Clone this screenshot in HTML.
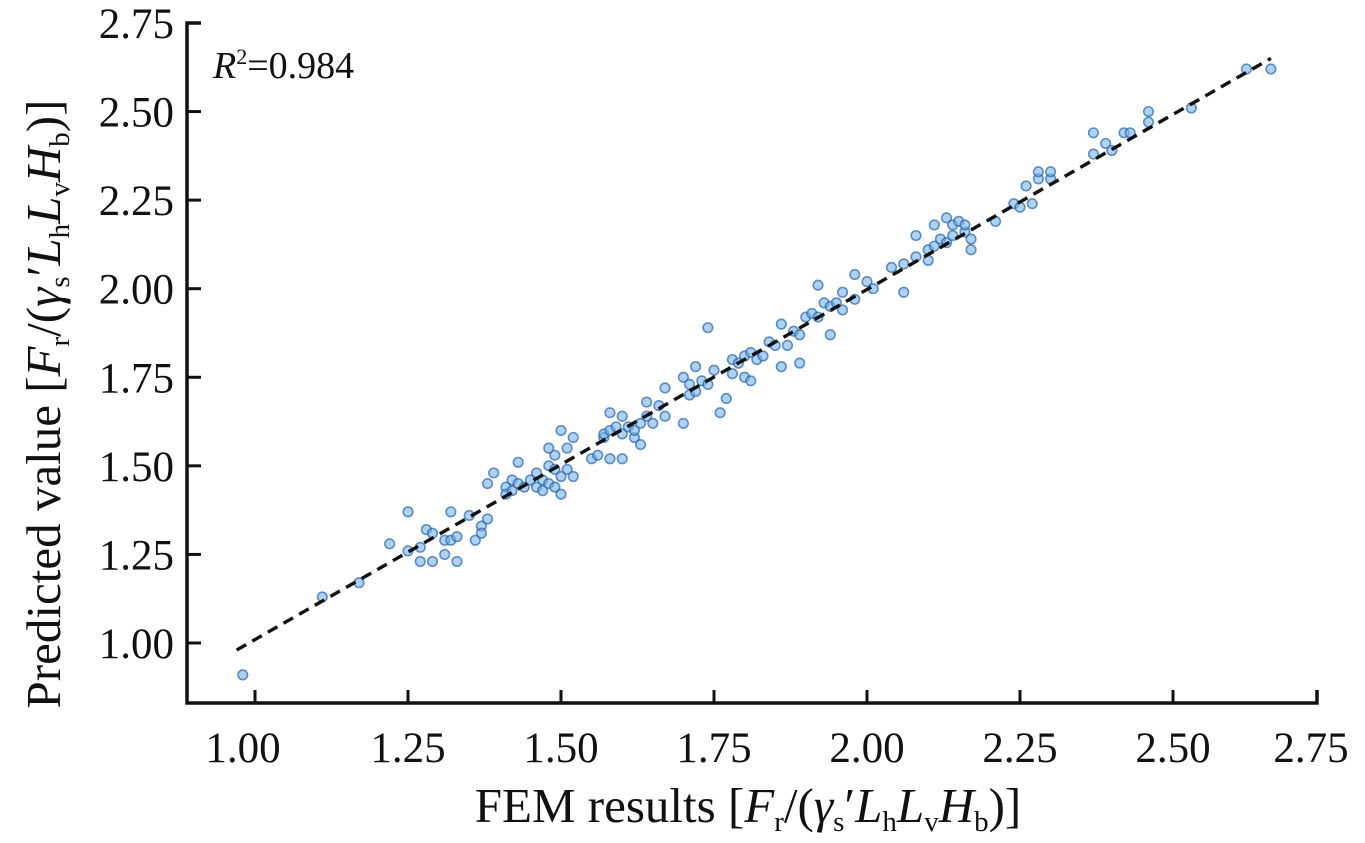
<!DOCTYPE html>
<html><head><meta charset="utf-8"><style>
html,body{margin:0;padding:0;background:#fff;}
svg{display:block;font-family:"Liberation Serif",serif;}
</style></head><body>
<svg id="chart" width="1365" height="843" viewBox="0 0 1365 843" xmlns="http://www.w3.org/2000/svg">
<g id="marks"></g>
<g id="fit"></g>
<g id="axes"></g>
<text x="213" y="78" font-size="38" fill="#111"><tspan font-style="italic">R</tspan><tspan font-size="22" dy="-14">2</tspan><tspan dy="14">=0.984</tspan></text>
<text x="748" y="822" font-size="49" text-anchor="middle" fill="#111">FEM results [<tspan font-style="italic">F</tspan><tspan font-size="29" dy="9">r</tspan><tspan dy="-9">/(</tspan><tspan font-style="italic">γ</tspan><tspan font-size="29" dy="9">s</tspan><tspan dy="-9">′</tspan><tspan font-style="italic">L</tspan><tspan font-size="29" dy="9">h</tspan><tspan font-style="italic" dy="-9">L</tspan><tspan font-size="29" dy="9">v</tspan><tspan font-style="italic" dy="-9">H</tspan><tspan font-size="29" dy="9">b</tspan><tspan dy="-9">)]</tspan></text>
<text transform="translate(60,404) rotate(-90)" font-size="49" text-anchor="middle" fill="#111">Predicted value [<tspan font-style="italic">F</tspan><tspan font-size="29" dy="9">r</tspan><tspan dy="-9">/(</tspan><tspan font-style="italic">γ</tspan><tspan font-size="29" dy="9">s</tspan><tspan dy="-9">′</tspan><tspan font-style="italic">L</tspan><tspan font-size="29" dy="9">h</tspan><tspan font-style="italic" dy="-9">L</tspan><tspan font-size="29" dy="9">v</tspan><tspan font-style="italic" dy="-9">H</tspan><tspan font-size="29" dy="9">b</tspan><tspan dy="-9">)]</tspan></text>
</svg>
<script>
const xTicks = [1.00, 1.25, 1.50, 1.75, 2.00, 2.25, 2.50, 2.75];
const yTicks = [1.00, 1.25, 1.50, 1.75, 2.00, 2.25, 2.50, 2.75];
const tickLabels = ["1.00","1.25","1.50","1.75","2.00","2.25","2.50","2.75"];
const femX = [0.98,1.11,1.17,1.22,1.25,1.25,1.27,1.27,1.28,1.29,1.29,1.31,1.31,1.32,1.32,1.33,1.33,1.35,1.36,1.37,1.37,1.38,1.38,1.39,1.41,1.41,1.42,1.42,1.43,1.43,1.44,1.45,1.46,1.46,1.47,1.47,1.48,1.48,1.48,1.49,1.49,1.49,1.50,1.50,1.50,1.51,1.51,1.52,1.52,1.55,1.56,1.57,1.57,1.58,1.58,1.58,1.59,1.60,1.60,1.60,1.61,1.62,1.62,1.63,1.63,1.64,1.64,1.65,1.66,1.67,1.67,1.70,1.70,1.71,1.71,1.72,1.72,1.73,1.74,1.74,1.75,1.76,1.77,1.78,1.78,1.79,1.80,1.80,1.81,1.81,1.82,1.83,1.84,1.85,1.86,1.86,1.87,1.88,1.89,1.89,1.90,1.91,1.92,1.92,1.93,1.94,1.94,1.95,1.96,1.96,1.98,1.98,2.00,2.01,2.04,2.06,2.06,2.08,2.08,2.10,2.10,2.11,2.11,2.12,2.13,2.13,2.14,2.14,2.15,2.16,2.16,2.17,2.17,2.21,2.24,2.25,2.26,2.27,2.28,2.28,2.30,2.30,2.37,2.37,2.39,2.40,2.42,2.43,2.46,2.46,2.53,2.62,2.66];
const predY = [0.91,1.13,1.17,1.28,1.26,1.37,1.27,1.23,1.32,1.23,1.31,1.29,1.25,1.37,1.29,1.23,1.30,1.36,1.29,1.33,1.31,1.35,1.45,1.48,1.44,1.42,1.43,1.46,1.51,1.45,1.44,1.46,1.44,1.48,1.46,1.43,1.50,1.55,1.45,1.49,1.53,1.44,1.60,1.47,1.42,1.55,1.49,1.58,1.47,1.52,1.53,1.58,1.59,1.60,1.65,1.52,1.61,1.59,1.64,1.52,1.61,1.58,1.60,1.56,1.62,1.64,1.68,1.62,1.67,1.64,1.72,1.62,1.75,1.70,1.73,1.78,1.71,1.74,1.73,1.89,1.77,1.65,1.69,1.80,1.76,1.79,1.81,1.75,1.74,1.82,1.80,1.81,1.85,1.84,1.90,1.78,1.84,1.88,1.79,1.87,1.92,1.93,2.01,1.92,1.96,1.87,1.95,1.96,1.99,1.94,1.97,2.04,2.02,2.00,2.06,2.07,1.99,2.09,2.15,2.11,2.08,2.12,2.18,2.14,2.20,2.13,2.18,2.15,2.19,2.16,2.18,2.14,2.11,2.19,2.24,2.23,2.29,2.24,2.31,2.33,2.31,2.33,2.38,2.44,2.41,2.39,2.44,2.44,2.47,2.50,2.51,2.62,2.62];
const fitX = [0.97, 2.66];
const fitY = [0.98, 2.65];

const NS = "http://www.w3.org/2000/svg";
const X0 = 255, XU = 612, Y0 = 643, YU = 354.3;
function sx(v){ return X0 + (v - 1) * XU; }
function sy(v){ return Y0 - (v - 1) * YU; }
function mk(tag, attrs, parent){
  const e = document.createElementNS(NS, tag);
  for (const k in attrs) e.setAttribute(k, attrs[k]);
  parent.appendChild(e);
  return e;
}
const marks = document.getElementById('marks');
for (let i = 0; i < femX.length; i++) {
  const c = mk('circle', {cx: sx(femX[i]), cy: sy(predY[i]), r: 4.8, fill: 'rgba(120,180,235,0.6)', stroke: 'rgba(40,100,170,0.7)', 'stroke-width': 1.6}, marks);
  
  
}
const fit = document.getElementById('fit');
const fl = mk('line', {x1: sx(fitX[0]), y1: sy(fitY[0]), x2: sx(fitX[1]), y2: sy(fitY[1]), stroke: '#111', 'stroke-width': 3.4, 'stroke-dasharray': '11 7'}, fit);



const axes = document.getElementById('axes');
const ya = mk('path', {d: 'M201 23 H187 V703 H1317 V690', fill: 'none', stroke: '#111', 'stroke-width': 3.5}, axes);


for (let i = 0; i < yTicks.length; i++) {
  const y = sy(yTicks[i]);
  const t = mk('line', {x1: 187, y1: y, x2: 201, y2: y, stroke: '#111', 'stroke-width': 3}, axes);
  
  
  const l = mk('text', {x: 174, y: y + 15, 'font-size': 43, 'text-anchor': 'end', fill: '#111'}, axes);
  l.textContent = tickLabels[i];
  
  
}
for (let i = 0; i < xTicks.length; i++) {
  const x = sx(xTicks[i]);
  if (x < 1316) {
    const t = mk('line', {x1: x, y1: 703, x2: x, y2: 690, stroke: '#111', 'stroke-width': 3}, axes);
    
    
  }
  const l = mk('text', {x: Math.min(x, 1311) - (i === 0 ? 12 : 0), y: 762, 'font-size': 43, 'text-anchor': 'middle', fill: '#111'}, axes);
  l.textContent = tickLabels[i];
  
  
}
</script>
</body></html>
